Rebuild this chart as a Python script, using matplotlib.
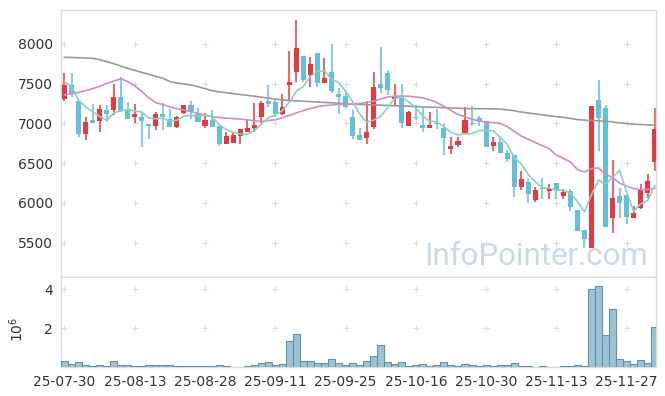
import matplotlib
matplotlib.use("Agg")
import matplotlib.pyplot as plt
import numpy as np
import pandas as pd

# ---------------- data ----------------
opens = [7301, 7481, 7280, 6870, 7042, 7033, 7167, 7172, 7331, 7176,
         7084, 7075, 6996, 6971, 7117, 7050, 6958, 7134, 7230, 7121,
         6971, 7042, 6967, 6745, 6757, 6845, 6895, 6937, 7075, 7280,
         7264, 7117, 7481, 7649, 7846, 7607, 7883, 7507, 7649, 7368,
         7347, 7080, 6853, 6820, 6958, 7490, 7628, 7301, 7335, 6971,
         7075, 6979, 6937, 7008, 6937, 6682, 6728, 6883, 7008, 7071,
         7029, 6720, 6770, 6632, 6602, 6205, 6259, 6037, 6184, 6154,
         6247, 6087, 6150, 5912, 5660, 5439, 7293, 7188, 5815, 6087,
         6100, 5815, 5941, 6129, 6519]
highs = [7628, 7628, 7280, 7075, 7239, 7230, 7230, 7490, 7586, 7264,
         7239, 7147, 6996, 7147, 7255, 7176, 7092, 7230, 7280, 7188,
         7126, 7167, 6967, 6887, 6874, 6925, 7059, 7251, 7280, 7481,
         7293, 7364, 7908, 8298, 7846, 7829, 7883, 7825, 7996, 7440,
         7406, 7167, 6937, 7280, 7649, 7954, 7670, 7490, 7490, 7159,
         7230, 7188, 7147, 7176, 7000, 6833, 6833, 7201, 7218, 7092,
         7029, 6833, 6833, 6665, 6602, 6401, 6318, 6205, 6318, 6234,
         6247, 6175, 6175, 5912, 5660, 7218, 7544, 7230, 6540, 6192,
         6100, 5966, 6234, 6360, 7197]
lows = [7280, 7335, 6833, 6787, 7004, 6895, 7013, 7105, 7147, 7059,
        7000, 6707, 6799, 6912, 6916, 6958, 6946, 7121, 7059, 7021,
        6937, 6958, 6720, 6745, 6757, 6736, 6895, 6895, 7000, 7209,
        7084, 7105, 7280, 7523, 7523, 7460, 7460, 7507, 7377, 7113,
        7188, 6803, 6791, 6740, 6925, 7377, 7356, 7218, 6937, 6971,
        7042, 6887, 6937, 6925, 6602, 6615, 6707, 6883, 6971, 6971,
        6707, 6653, 6623, 6519, 6071, 6163, 5995, 6016, 6046, 6046,
        6046, 6046, 5899, 5652, 5430, 5439, 6653, 5702, 5619, 5815,
        5732, 5815, 5924, 6067, 6401]
closes = [7481, 7364, 6870, 7017, 7004, 7176, 7117, 7331, 7159, 7059,
          7117, 7033, 6962, 7117, 7080, 6958, 7080, 7230, 7155, 7021,
          7042, 6958, 6745, 6841, 6853, 6925, 6941, 6979, 7251, 7247,
          7113, 7201, 7515, 7946, 7544, 7745, 7502, 7573, 7406, 7335,
          7209, 6845, 6791, 6895, 7460, 7448, 7419, 7335, 7000, 7138,
          7063, 6937, 6979, 6987, 6820, 6715, 6778, 7042, 6992, 7029,
          6707, 6770, 6623, 6552, 6205, 6301, 6108, 6163, 6171, 6192,
          6150, 6142, 5953, 5652, 5548, 7218, 7063, 5702, 6067, 6004,
          5828, 5870, 6175, 6276, 6929]
volumes = [308000, 154000, 256000, 103000, 34000, 103000, 34000, 308000, 103000, 103000,
           51000, 51000, 103000, 103000, 103000, 103000, 51000, 51000, 51000, 51000,
           51000, 51000, 103000, 51000, 10000, 5000, 51000, 103000, 205000, 256000,
           103000, 154000, 1330000, 1690000, 308000, 308000, 205000, 205000, 410000, 205000,
           103000, 205000, 103000, 308000, 564000, 1130000, 256000, 154000, 256000, 51000,
           103000, 154000, 51000, 103000, 256000, 103000, 51000, 154000, 103000, 51000,
           103000, 51000, 103000, 103000, 205000, 51000, 51000, 20000, 51000, 15000,
           15000, 51000, 51000, 103000, 51000, 4000000, 4170000, 1660000, 2970000, 410000,
           325000, 154000, 359000, 205000, 2050000]
# first four points of the 5-day line (earlier closes are off the chart)
ma5_head = [7523, 7460, 7293, 7209]
ma20 = [7356, 7372, 7389, 7410, 7435, 7465, 7500, 7530, 7560, 7525,
        7470, 7400, 7320, 7260, 7235, 7205, 7185, 7165, 7148, 7125,
        7100, 7085, 7073, 7066, 7060, 7054, 7045, 7030, 7025, 7035,
        7045, 7070, 7100, 7130, 7160, 7185, 7210, 7222, 7230, 7238,
        7240, 7240, 7250, 7262, 7280, 7305, 7330, 7340, 7343, 7340,
        7332, 7320, 7295, 7260, 7215, 7160, 7110, 7085, 7050, 7030,
        7015, 7008, 7000, 6960, 6900, 6840, 6800, 6760, 6720, 6680,
        6600, 6560, 6515, 6420, 6390, 6430, 6440, 6360, 6320, 6250,
        6210, 6180, 6165, 6170, 6185]
ma60 = [7829, 7827, 7824, 7820, 7816, 7800, 7775, 7750, 7720, 7690,
        7665, 7640, 7615, 7590, 7565, 7525, 7505, 7495, 7482, 7460,
        7435, 7410, 7395, 7385, 7372, 7362, 7352, 7340, 7328, 7318,
        7305, 7295, 7286, 7282, 7278, 7273, 7268, 7262, 7258, 7253,
        7248, 7242, 7238, 7234, 7231, 7228, 7224, 7221, 7218, 7215,
        7210, 7206, 7203, 7200, 7197, 7193, 7189, 7187, 7185, 7184,
        7183, 7181, 7178, 7170, 7158, 7142, 7130, 7118, 7106, 7094,
        7084, 7075, 7062, 7048, 7040, 7036, 7032, 7028, 7018, 7005,
        6997, 6990, 6985, 6981, 6978]
tick_labels = ["25-07-30", "25-08-13", "25-08-28", "25-09-11", "25-09-25",
               "25-10-16", "25-10-30", "25-11-13", "25-11-27"]
price_ticks = [5500, 6000, 6500, 7000, 7500, 8000]
vol_ticks = [2e6, 4e6]

# ---------------- derived ----------------
df = pd.DataFrame({"open": opens, "high": highs, "low": lows,
                   "close": closes, "volume": volumes})
x = np.arange(len(df))
ma5 = df["close"].rolling(5).mean().to_numpy()
ma5[:4] = ma5_head

RED = "#e8383f"
BLUE = "#66bfd9"
GRID = "#dcdcdc"
TXT = "#333333"

fig = plt.figure(figsize=(6.65, 3.96), dpi=100)
ax = fig.add_axes([0.0917, 0.2997, 0.8955, 0.675])
axv = fig.add_axes([0.0917, 0.0732, 0.8955, 0.2265], sharex=ax)

up = df["close"] >= df["open"]
colors = np.where(up, RED, BLUE)
body_low = np.minimum(df["open"], df["close"])
body_h = np.abs(df["close"] - df["open"]).clip(lower=12)

ax.vlines(x, df["low"], df["high"], colors=colors, linewidth=1.1, zorder=2)
ax.bar(x, body_h, bottom=body_low, width=0.72, color=colors, linewidth=0, zorder=3)

ax.plot(x, ma60, color="#9a9a9a", linewidth=1.2, zorder=4)
ax.plot(x, ma20, color="#cf8cc6", linewidth=1.2, zorder=4)
ax.plot(x, ma5, color="#8ccfc0", linewidth=1.2, zorder=4)

axv.bar(x, df["volume"], width=1.0, color="#9ec2d3", edgecolor="#5f93ab",
        linewidth=0.8, zorder=3)

xt = np.arange(0, len(df), 10)[:len(tick_labels)]
ax.set_xlim(-0.5, 84.25)
ax.set_ylim(5066, 8423)
axv.set_ylim(0, 4.6e6)

ax.set_yticks(price_ticks)
ax.set_yticklabels([str(v) for v in price_ticks])
axv.set_yticks(vol_ticks)
axv.set_yticklabels(["2", "4"])
axv.set_xticks(xt)
axv.set_xticklabels(tick_labels)
plt.setp(ax.get_xticklabels(), visible=False)

for a in (ax, axv):
    for s in a.spines.values():
        s.set_color(GRID)
        s.set_linewidth(1.0)
    a.tick_params(length=0, labelsize=10, colors=TXT, pad=6)

# small "+" marks at grid intersections
gx, gy = np.meshgrid(xt, price_ticks)
ax.scatter(gx.ravel(), gy.ravel(), marker="+", s=18, color=GRID, linewidths=0.8, zorder=1)
gx, gy = np.meshgrid(xt, vol_ticks)
axv.scatter(gx.ravel(), gy.ravel(), marker="+", s=18, color=GRID, linewidths=0.8, zorder=1)

axv.text(-0.075, 0.42, r"$10^6$", transform=axv.transAxes, rotation=90,
         ha="center", va="center", fontsize=10, color=TXT)

ax.text(0.985, 0.025, "InfoPointer.com", transform=ax.transAxes, ha="right",
        va="bottom", fontsize=22.5, family="Roboto",
        color="#c4d6e1", alpha=0.9, zorder=0)

fig.savefig("out.png", dpi=100)
